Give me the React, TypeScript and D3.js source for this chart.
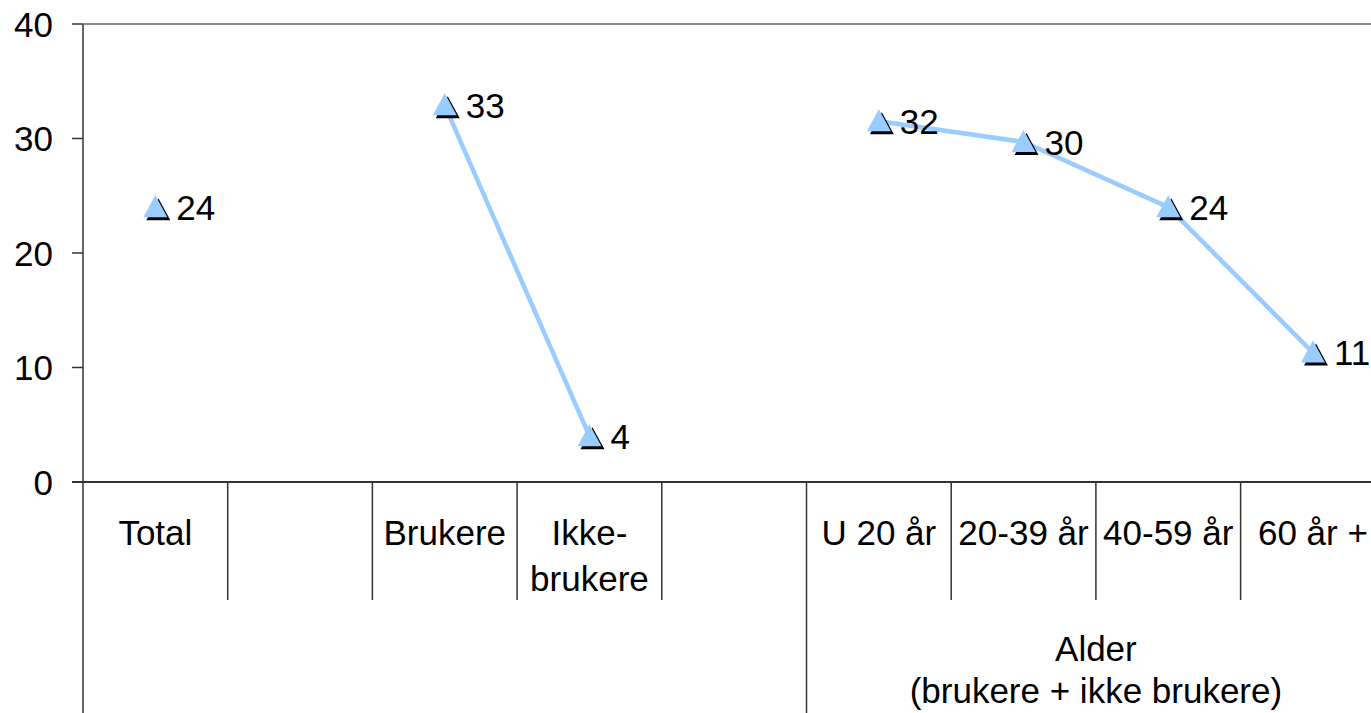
import React, { useEffect, useRef } from 'react'
import * as d3 from 'd3'

// kategorier langs x-aksen (tomme kolonner er mellomrom)
const categories = ['Total', '', 'Brukere', 'Ikke-|brukere', '', 'U 20 år', '20-39 år', '40-59 år', '60 år +']
const values: (number | null)[] = [24, null, 32.9, 4, null, 31.5, 29.7, 24, 11.3]
const valueLabels = ['24', '', '33', '4', '', '32', '30', '24', '11']
// hvilke punkter som er koblet med linje
const segments = [[0], [2, 3], [5, 6, 7, 8]]
const groupLabel = ['Alder', '(brukere + ikke brukere)']
const yTicks = [0, 10, 20, 30, 40]

const App = () => {
  const svgRef = useRef<SVGSVGElement>(null)

  useEffect(() => {
    const width = 1371
    const height = 713
    const left = 83
    const top = 24
    const bottom = 482
    const band = 144.7
    const font = '"Liberation Sans", Arial, sans-serif'
    const fs = '35px'

    const svg = d3.select(svgRef.current).attr('width', width).attr('height', height)
    svg.selectAll('*').remove()

    const keys = categories.map((_, i) => String(i))
    const x = d3
      .scaleBand()
      .domain(keys)
      .range([left, left + band * categories.length])
      .padding(0)
    const y = d3.scaleLinear().domain([0, 40]).range([bottom, top])

    // ramme øverst
    svg
      .append('line')
      .attr('x1', left)
      .attr('x2', width)
      .attr('y1', top)
      .attr('y2', top)
      .attr('stroke', '#8c8c8c')
      .attr('stroke-width', 2)

    // y-akse
    const yAxis = svg.append('g').attr('transform', `translate(${left},0)`)
    yAxis
      .append('line')
      .attr('x1', 0)
      .attr('x2', 0)
      .attr('y1', top)
      .attr('y2', height)
      .attr('stroke', '#333')
      .attr('stroke-width', 1.5)
    yTicks.forEach((t) => {
      yAxis
        .append('line')
        .attr('x1', -11)
        .attr('x2', 0)
        .attr('y1', y(t))
        .attr('y2', y(t))
        .attr('stroke', '#333')
        .attr('stroke-width', 1.5)
      yAxis
        .append('text')
        .attr('x', -30)
        .attr('y', y(t))
        .attr('dy', '0.36em')
        .attr('text-anchor', 'end')
        .style('font-family', font)
        .style('font-size', fs)
        .text(t)
    })

    // x-akse
    svg
      .append('line')
      .attr('x1', left - 11)
      .attr('x2', width)
      .attr('y1', bottom)
      .attr('y2', bottom)
      .attr('stroke', '#333')
      .attr('stroke-width', 2)

    // skillelinjer mellom kategorier
    keys.forEach((k, i) => {
      if (i === 0) return
      const long = i === 5
      svg
        .append('line')
        .attr('x1', x(k)!)
        .attr('x2', x(k)!)
        .attr('y1', bottom)
        .attr('y2', long ? height : 600)
        .attr('stroke', '#333')
        .attr('stroke-width', 1.5)
    })

    // kategorietiketter
    categories.forEach((c, i) => {
      if (!c) return
      const lines = c.split('|')
      const cx = x(keys[i])! + x.bandwidth() / 2
      lines.forEach((l, j) => {
        svg
          .append('text')
          .attr('x', cx)
          .attr('y', 532 + j * 46)
          .attr('dy', '0.36em')
          .attr('text-anchor', 'middle')
          .style('font-family', font)
          .style('font-size', fs)
          .text(l)
      })
    })

    // gruppeetikett
    const gx = (x(keys[5])! + x(keys[8])! + x.bandwidth()) / 2
    groupLabel.forEach((l, j) => {
      svg
        .append('text')
        .attr('x', gx)
        .attr('y', 648 + j * 42)
        .attr('dy', '0.36em')
        .attr('text-anchor', 'middle')
        .style('font-family', font)
        .style('font-size', fs)
        .text(l)
    })

    const px = (i: number) => x(keys[i])! + x.bandwidth() / 2
    const line = d3
      .line<number>()
      .x((i) => px(i))
      .y((i) => y(values[i]!))

    svg
      .selectAll('path.seg')
      .data(segments.filter((s) => s.length > 1))
      .enter()
      .append('path')
      .attr('class', 'seg')
      .attr('d', (s) => line(s))
      .attr('fill', 'none')
      .attr('stroke', '#99CCFF')
      .attr('stroke-width', 4.5)

    // markører: trekant med svart skygge
    const tri = (cx: number, cy: number) =>
      `M${cx},${cy - 12}L${cx + 12},${cy + 10}L${cx - 12},${cy + 10}Z`

    values.forEach((v, i) => {
      if (v === null) return
      const cx = px(i)
      const cy = y(v)
      svg.append('path').attr('d', tri(cx + 3, cy + 3)).attr('fill', '#000')
      svg.append('path').attr('d', tri(cx, cy)).attr('fill', '#99CCFF')
      svg
        .append('text')
        .attr('x', cx + 21)
        .attr('y', cy)
        .attr('dy', '0.36em')
        .style('font-family', font)
        .style('font-size', fs)
        .text(valueLabels[i])
    })
  }, [])

  return (
    <div style={{ position: 'absolute', left: 0, top: 0, background: '#fff' }}>
      <svg ref={svgRef} style={{ display: 'block' }}></svg>
    </div>
  )
}

export default App
